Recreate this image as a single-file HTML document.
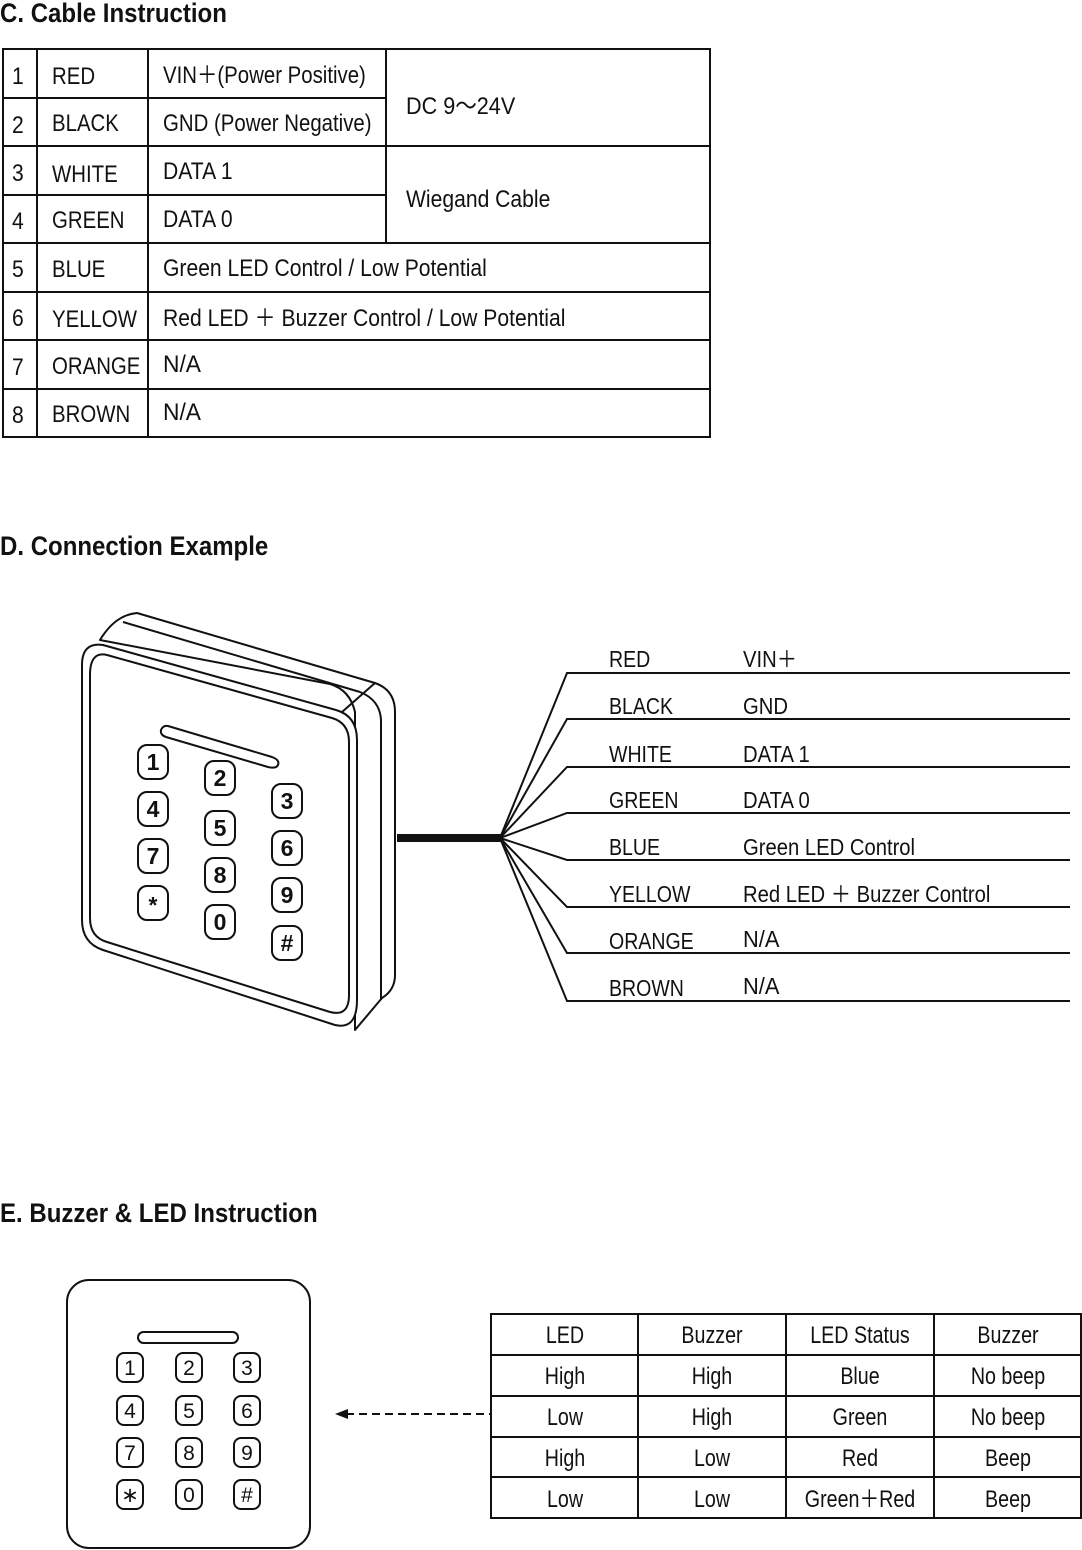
<!DOCTYPE html>
<html><head><meta charset="utf-8"><style>
html,body{margin:0;padding:0;background:#fff;}
svg{display:block;}
text{font-family:"Liberation Sans",sans-serif;fill:#111;}
</style></head><body>
<svg width="1082" height="1550" viewBox="0 0 1082 1550" xmlns="http://www.w3.org/2000/svg">
<g font-weight="bold" font-size="27">
<text transform="translate(0,22) scale(0.89,1)">C. Cable Instruction</text>
<text transform="translate(0,555) scale(0.89,1)">D. Connection Example</text>
<text transform="translate(0,1222) scale(0.89,1)">E. Buzzer &amp; LED Instruction</text>
</g>
<!-- Table C -->
<g stroke="#111" stroke-width="2" fill="none">
<rect x="3" y="49" width="707" height="388"/>
<line x1="37" y1="49" x2="37" y2="437"/>
<line x1="148" y1="49" x2="148" y2="437"/>
<line x1="386" y1="49" x2="386" y2="243"/>
<line x1="3" y1="98" x2="386" y2="98"/>
<line x1="3" y1="146" x2="710" y2="146"/>
<line x1="3" y1="195" x2="386" y2="195"/>
<line x1="3" y1="243" x2="710" y2="243"/>
<line x1="3" y1="292" x2="710" y2="292"/>
<line x1="3" y1="340" x2="710" y2="340"/>
<line x1="3" y1="389" x2="710" y2="389"/>
</g>
<g font-size="24">
<text transform="translate(12,84) scale(0.88,1)">1</text>
<text transform="translate(12,133) scale(0.88,1)">2</text>
<text transform="translate(12,181) scale(0.88,1)">3</text>
<text transform="translate(12,229) scale(0.88,1)">4</text>
<text transform="translate(12,277) scale(0.88,1)">5</text>
<text transform="translate(12,326) scale(0.88,1)">6</text>
<text transform="translate(12,375) scale(0.88,1)">7</text>
<text transform="translate(12,423) scale(0.88,1)">8</text>
<text transform="translate(52,84) scale(0.85,1)">RED</text>
<text transform="translate(52,131) scale(0.85,1)">BLACK</text>
<text transform="translate(52,182) scale(0.85,1)">WHITE</text>
<text transform="translate(52,228) scale(0.85,1)">GREEN</text>
<text transform="translate(52,277) scale(0.85,1)">BLUE</text>
<text transform="translate(52,327) scale(0.85,1)">YELLOW</text>
<text transform="translate(52,374) scale(0.85,1)">ORANGE</text>
<text transform="translate(52,422) scale(0.85,1)">BROWN</text>
<text transform="translate(163,83) scale(0.85,1)">VIN＋(Power Positive)</text>
<text transform="translate(163,131) scale(0.85,1)">GND (Power Negative)</text>
<text transform="translate(163,179) scale(0.88,1)">DATA 1</text>
<text transform="translate(163,227) scale(0.88,1)">DATA 0</text>
<text transform="translate(163,276) scale(0.88,1)">Green LED Control / Low Potential</text>
<text transform="translate(163,326) scale(0.88,1)">Red LED ＋ Buzzer Control / Low Potential</text>
<text transform="translate(163,372) scale(0.95,1)">N/A</text>
<text transform="translate(163,420) scale(0.95,1)">N/A</text>
<text transform="translate(406,114) scale(0.9,1)">DC 9～24V</text>
<text transform="translate(406,207) scale(0.88,1)">Wiegand Cable</text>
</g>

<!-- Device D -->
<g stroke="#111" stroke-width="2" fill="#fff" stroke-linejoin="round">
<path d="M137,613 L375,683 Q395,690 395,712 L395,975 Q395,990 382,998 L355,1030 L355,712 Q350,690 330,684 L100,640 Q115,615 137,613 Z"/>
<path d="M123,622 L360,692" fill="none"/>
<path d="M360,692 Q380,700 381,720 L381,1000" fill="none"/>
<path d="M342,712 L375,683" fill="none"/>
<path d="M103,645 L336,710 Q357,716 357,740 L357,1000 Q357,1030 335,1025 L103,950 Q82,943 82,920 L82,665 Q82,642 103,645 Z"/>
<path d="M107,655 L332,718 Q349,723 349,742 L349,995 Q349,1017 330,1012 L107,942 Q90,937 90,918 L90,675 Q90,651 107,655 Z"/>
<path d="M168,726 L272,757 Q280,760 278,765 Q276,769 268,767 L166,737 Q160,735 161,730 Q163,725 168,726 Z"/>
</g>
<g stroke="#111" stroke-width="2" fill="#fff">
<rect x="138" y="745" width="30" height="34" rx="9"/>
<rect x="205" y="761" width="30" height="34" rx="9"/>
<rect x="272" y="784" width="30" height="34" rx="9"/>
<rect x="138" y="792" width="30" height="34" rx="9"/>
<rect x="205" y="811" width="30" height="34" rx="9"/>
<rect x="272" y="831" width="30" height="34" rx="9"/>
<rect x="138" y="839" width="30" height="34" rx="9"/>
<rect x="205" y="858" width="30" height="34" rx="9"/>
<rect x="272" y="878" width="30" height="34" rx="9"/>
<rect x="138" y="886" width="30" height="34" rx="9"/>
<rect x="205" y="905" width="30" height="34" rx="9"/>
<rect x="272" y="926" width="30" height="34" rx="9"/>
</g>
<g font-size="23" font-weight="bold" text-anchor="middle">
<text x="153" y="770">1</text><text x="220" y="786">2</text><text x="287" y="809">3</text>
<text x="153" y="817">4</text><text x="220" y="836">5</text><text x="287" y="856">6</text>
<text x="153" y="864">7</text><text x="220" y="883">8</text><text x="287" y="903">9</text>
<text x="153" y="913">*</text><text x="220" y="930">0</text><text x="287" y="951">#</text>
</g>
<rect x="397" y="834" width="104" height="8" fill="#111"/>
<g stroke="#111" stroke-width="2" fill="none">
<polyline points="500,838 567,673 1070,673"/>
<polyline points="500,838 567,719 1070,719"/>
<polyline points="500,838 567,767 1070,767"/>
<polyline points="500,838 567,813 1070,813"/>
<polyline points="500,838 567,860 1070,860"/>
<polyline points="500,838 567,907 1070,907"/>
<polyline points="500,838 567,953 1070,953"/>
<polyline points="500,838 567,1001 1070,1001"/>
</g>
<g font-size="23">
<text transform="translate(609,667) scale(0.85,1)">RED</text>
<text transform="translate(609,714) scale(0.85,1)">BLACK</text>
<text transform="translate(609,762) scale(0.85,1)">WHITE</text>
<text transform="translate(609,808) scale(0.85,1)">GREEN</text>
<text transform="translate(609,855) scale(0.85,1)">BLUE</text>
<text transform="translate(609,902) scale(0.85,1)">YELLOW</text>
<text transform="translate(609,949) scale(0.85,1)">ORANGE</text>
<text transform="translate(609,996) scale(0.85,1)">BROWN</text>
<text transform="translate(743,667) scale(0.88,1)">VIN＋</text>
<text transform="translate(743,714) scale(0.88,1)">GND</text>
<text transform="translate(743,762) scale(0.88,1)">DATA 1</text>
<text transform="translate(743,808) scale(0.88,1)">DATA 0</text>
<text transform="translate(743,855) scale(0.88,1)">Green LED Control</text>
<text transform="translate(743,902) scale(0.88,1)">Red LED ＋ Buzzer Control</text>
<text transform="translate(743,947) scale(0.95,1)">N/A</text>
<text transform="translate(743,994) scale(0.95,1)">N/A</text>
</g>

<!-- Section E keypad -->
<g stroke="#111" stroke-width="2" fill="none">
<rect x="67" y="1280" width="243" height="268" rx="22"/>
<rect x="138" y="1332" width="100" height="11" rx="5.5"/>
<rect x="117" y="1353" width="26" height="29" rx="7"/>
<rect x="176" y="1353" width="26" height="29" rx="7"/>
<rect x="234" y="1353" width="26" height="29" rx="7"/>
<rect x="117" y="1396" width="26" height="29" rx="7"/>
<rect x="176" y="1396" width="26" height="29" rx="7"/>
<rect x="234" y="1396" width="26" height="29" rx="7"/>
<rect x="117" y="1438" width="26" height="29" rx="7"/>
<rect x="176" y="1438" width="26" height="29" rx="7"/>
<rect x="234" y="1438" width="26" height="29" rx="7"/>
<rect x="117" y="1480" width="26" height="29" rx="7"/>
<rect x="176" y="1480" width="26" height="29" rx="7"/>
<rect x="234" y="1480" width="26" height="29" rx="7"/>
</g>
<g font-size="21" text-anchor="middle">
<text x="130" y="1375">1</text><text x="189" y="1375">2</text><text x="247" y="1375">3</text>
<text x="130" y="1418">4</text><text x="189" y="1418">5</text><text x="247" y="1418">6</text>
<text x="130" y="1460">7</text><text x="189" y="1460">8</text><text x="247" y="1460">9</text>
<text x="130" y="1502">∗</text><text x="189" y="1502">0</text><text x="247" y="1502">#</text>
</g>
<line x1="346" y1="1414" x2="490" y2="1414" stroke="#111" stroke-width="2" stroke-dasharray="8,5"/>
<polygon points="335,1414 348,1409 348,1419" fill="#111"/>

<!-- Table E -->
<g stroke="#111" stroke-width="2" fill="none">
<rect x="491" y="1314" width="590" height="204"/>
<line x1="638" y1="1314" x2="638" y2="1518"/>
<line x1="786" y1="1314" x2="786" y2="1518"/>
<line x1="934" y1="1314" x2="934" y2="1518"/>
<line x1="491" y1="1355" x2="1081" y2="1355"/>
<line x1="491" y1="1396" x2="1081" y2="1396"/>
<line x1="491" y1="1437" x2="1081" y2="1437"/>
<line x1="491" y1="1477" x2="1081" y2="1477"/>
</g>
<g font-size="24" text-anchor="middle">
<text transform="translate(565,1343) scale(0.82,1)">LED</text>
<text transform="translate(712,1343) scale(0.82,1)">Buzzer</text>
<text transform="translate(860,1343) scale(0.82,1)">LED Status</text>
<text transform="translate(1008,1343) scale(0.82,1)">Buzzer</text>
<text transform="translate(565,1384) scale(0.82,1)">High</text>
<text transform="translate(712,1384) scale(0.82,1)">High</text>
<text transform="translate(860,1384) scale(0.82,1)">Blue</text>
<text transform="translate(1008,1384) scale(0.82,1)">No beep</text>
<text transform="translate(565,1425) scale(0.82,1)">Low</text>
<text transform="translate(712,1425) scale(0.82,1)">High</text>
<text transform="translate(860,1425) scale(0.82,1)">Green</text>
<text transform="translate(1008,1425) scale(0.82,1)">No beep</text>
<text transform="translate(565,1466) scale(0.82,1)">High</text>
<text transform="translate(712,1466) scale(0.82,1)">Low</text>
<text transform="translate(860,1466) scale(0.82,1)">Red</text>
<text transform="translate(1008,1466) scale(0.82,1)">Beep</text>
<text transform="translate(565,1507) scale(0.82,1)">Low</text>
<text transform="translate(712,1507) scale(0.82,1)">Low</text>
<text transform="translate(860,1507) scale(0.82,1)">Green＋Red</text>
<text transform="translate(1008,1507) scale(0.82,1)">Beep</text>
</g>
</svg>
</body></html>
